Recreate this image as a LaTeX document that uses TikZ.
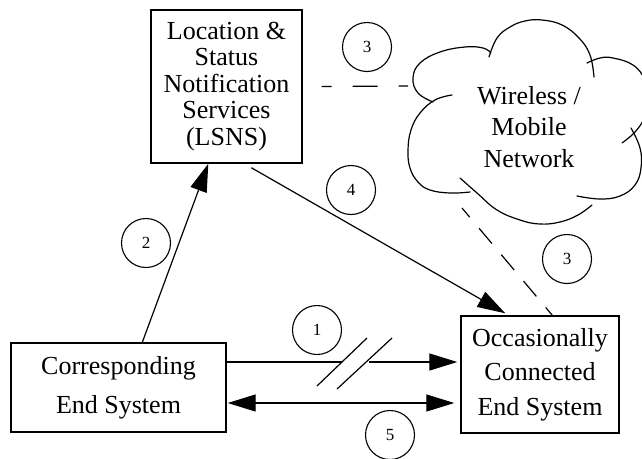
\documentclass[tikz,border=0pt]{standalone}
\usepackage{fontspec}
\setmainfont{Liberation Serif}
\usetikzlibrary{arrows.meta}
\begin{document}
\begin{tikzpicture}[x=1pt,y=-1pt,
  box/.style={draw, line width=1.4pt, align=center, inner sep=0pt},
  num/.style={draw, circle, line width=1.1pt, minimum size=49pt, inner sep=0pt, font=\fontsize{17}{17}\selectfont},
  conn/.style={line width=1.2pt},
  arr/.style={conn, -{Triangle[length=28pt,width=17pt]}},
  darr/.style={conn, {Triangle[length=28pt,width=17pt]}-{Triangle[length=28pt,width=17pt]}},
  dashthree/.style={conn, dash pattern=on 20pt off 14.5pt, dash phase=8pt},
  cloudline/.style={line width=1.2pt, line cap=round}]
\useasboundingbox (0,0) rectangle (642,458);
\fill[white] (0,0) rectangle (642,458);

% boxes
\node[box, minimum width=151pt, minimum height=153pt, font=\fontsize{26}{26.5}\selectfont] (lsns) at (226.5,86.5)
  {Location \&\\Status\\Notification\\Services\\(LSNS)};
\node[box, minimum width=215pt, minimum height=89pt, font=\fontsize{26}{39}\selectfont] (cor) at (118.5,387.5)
  {Corresponding\\End System};
\node[box, minimum width=158pt, minimum height=117pt, font=\fontsize{26}{34.5}\selectfont] (occ) at (540,374.5)
  {Occasionally\\Connected\\End System};

% cloud
\begin{scope}
\clip (0,0) rectangle (642,458);
\draw[cloudline] plot[smooth, tension=0.7] coordinates {(433,102) (418,93) (413,78) (420,63) (440,52) (465,47) (483,48) (491,53)};
\draw[cloudline] plot[smooth, tension=0.7] coordinates {(489,57) (497,38) (510,27) (525,21) (542,20) (562,25) (579,38) (590,55) (594,77)};
\draw[cloudline] plot[smooth, tension=0.7] coordinates {(587,63) (600,58) (613,58) (633,65) (645,80) (650,100) (645,117) (635,132) (622,143)};
\draw[cloudline] plot[smooth, tension=0.7] coordinates {(631,128) (640,148) (641,168) (635,185) (620,196) (600,199) (577,196)};
\draw[cloudline] plot[smooth, tension=0.7] coordinates {(592,205) (578,215) (560,222) (540,224) (520,220) (497,210) (477,193) (460,178)};
\draw[cloudline] plot[smooth, tension=0.7] coordinates {(452,95) (435,100) (420,113) (411,130) (408,150) (410,168) (418,182) (430,190) (450,193) (470,192)};
\end{scope}
\node[align=center, font=\fontsize{26}{31.5}\selectfont, inner sep=0pt] (cloud) at (529,127)
  {Wireless /\\Mobile\\Network};

% number circles
\node[num] (n1) at (317,330) {1};
\node[num] (n2) at (146,243) {2};
\node[num] (n3a) at (367,47) {3};
\node[num] (n3b) at (567,259) {3};
\node[num] (n4) at (351,190) {4};
\node[num] (n5) at (390,435) {5};

% connector end points
\coordinate (cl) at (408,86);
\coordinate (cb) at (462,208);
\coordinate (b1) at (342,362);
\coordinate (b2) at (369,362);
\coordinate (s1a) at (317,386);
\coordinate (s1b) at (367,338);
\coordinate (s2a) at (337,389);
\coordinate (s2b) at (392,338);

% connectors
\draw[arr] ([xshift=132pt]cor.north west) -- ([xshift=58pt]lsns.south west);
\draw[arr] ([xshift=101pt,yshift=-4pt]lsns.south west) -- ([xshift=45pt,yshift=2pt]occ.north west);
\draw[conn, dash pattern=on 10pt off 21pt on 25pt off 21pt on 10pt] ([xshift=19pt]lsns.east) -- (cl);
\draw[dashthree] (cb) -- ([xshift=92pt]occ.north west);
\draw[conn] ([yshift=25.5pt]cor.east) -- (b1);
\draw[arr] (b2) -- ([xshift=-3pt,yshift=12.5pt]occ.west);
\draw[conn] (s1a) -- (s1b);
\draw[conn] (s2a) -- (s2b);
\draw[darr] ([xshift=1pt,yshift=-15.5pt]cor.east) -- ([xshift=-6pt,yshift=-28.5pt]occ.west);
\end{tikzpicture}
\end{document}
